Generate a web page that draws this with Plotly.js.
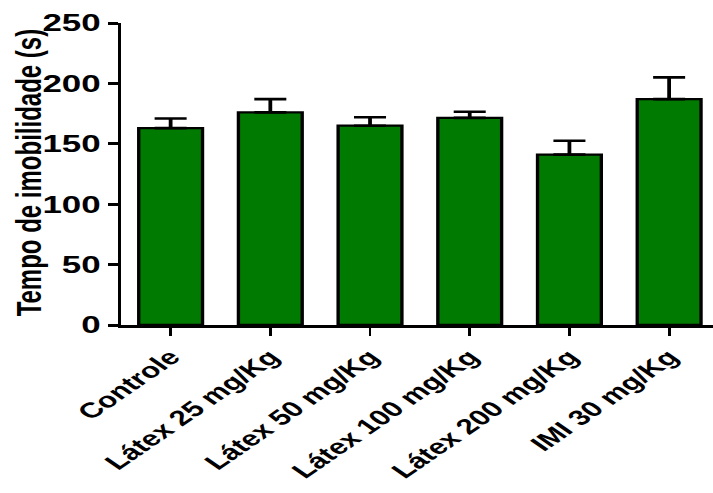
<!DOCTYPE html>
<html>
<head>
<meta charset="utf-8">
<script src="https://cdn.plot.ly/plotly-3.0.1.min.js"></script>
<style>
  html, body { margin: 0; padding: 0; background: #fff; overflow: hidden; }
  #wrap { width: 713px; height: 493px; overflow: hidden; }
  #chart { width: 490px; height: 493px; transform: scaleX(1.4551); transform-origin: 0 0; }
</style>
</head>
<body>
<div id="wrap"><div id="chart"></div></div>
<script>
const categories = ['Controle', 'Látex 25 mg/Kg', 'Látex 50 mg/Kg', 'Látex 100 mg/Kg', 'Látex 200 mg/Kg', 'IMI 30 mg/Kg'];
const means = [163, 176, 165, 171.5, 141, 187];
const errorsUp = [8, 11, 7, 5, 11.5, 18];
const errorsDown = [0, 0, 0, 0, 0, 0];
const yTickValues = [0, 50, 100, 150, 200, 250];
const yTitle = 'Tempo de imobilidade (s)';

const FONT = '"Liberation Sans", Arial, sans-serif';

const trace = {
  type: 'bar',
  x: categories,
  y: means,
  width: 0.64,
  marker: { color: '#007a00', line: { color: '#000000', width: 2.3 } },
  error_y: {
    type: 'data',
    symmetric: false,
    array: errorsUp,
    arrayminus: errorsDown,
    color: '#000000',
    thickness: 2.6,
    width: 11
  },
  hoverinfo: 'skip'
};

const layout = {
  width: 490,
  height: 493,
  margin: { l: 83, r: 0, t: 23, b: 168, pad: 0 },
  paper_bgcolor: '#ffffff',
  plot_bgcolor: '#ffffff',
  showlegend: false,
  font: { family: FONT, color: '#000000', size: 22, weight: 'bold' },
  xaxis: {
    type: 'category',
    range: [-0.5, 5.44],
    showgrid: false,
    zeroline: false,
    showline: true,
    linecolor: '#000000',
    linewidth: 3,
    ticks: 'outside',
    ticklen: 8,
    tickwidth: 2,
    tickcolor: '#000000',
    tickangle: -45,
    tickfont: { family: FONT, size: 21.5, color: '#000000', weight: 'bold' },
    fixedrange: true
  },
  yaxis: {
    range: [0, 250],
    tickvals: yTickValues,
    ticktext: yTickValues.map(String),
    showgrid: false,
    zeroline: false,
    showline: true,
    linecolor: '#000000',
    linewidth: 2,
    ticks: 'outside',
    ticklen: 7,
    tickwidth: 3,
    tickcolor: '#000000',
    tickfont: { family: FONT, size: 24, color: '#000000', weight: 'bold' },
    fixedrange: true
  },
  annotations: [{
    text: yTitle,
    xref: 'paper', yref: 'paper',
    x: -0.155, y: 0.505,
    xanchor: 'center', yanchor: 'middle',
    textangle: -90,
    showarrow: false,
    font: { family: FONT, size: 24, color: '#000000', weight: 'bold' }
  }]
};

Plotly.newPlot('chart', [trace], layout, { staticPlot: true, displayModeBar: false });
</script>
</body>
</html>
